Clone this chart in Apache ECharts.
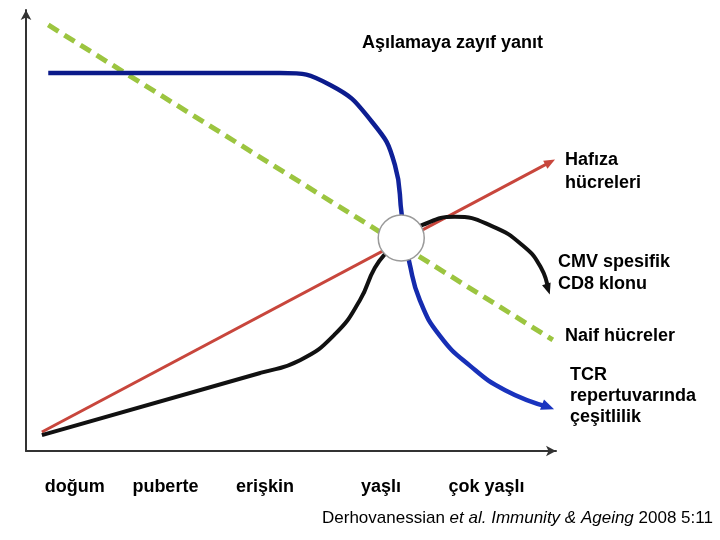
<!DOCTYPE html>
<html>
<head>
<meta charset="utf-8">
<script src="https://cdn.jsdelivr.net/npm/echarts@6/dist/echarts.min.js"></script>
<style>
  html, body { margin: 0; background: #fff; }
  #main { width: 720px; height: 540px; }
</style>
</head>
<body>
<div id="main"></div>
<script>
// life stages on the x axis (0..100 = birth .. very old)
const stageValues = [9.2, 26.3, 45.1, 67.0, 86.9];
const stageLabels = ['doğum', 'puberte', 'erişkin', 'yaşlı', 'çok yaşlı'];

// curves, [x, y] with y 0..100
const naifHucreler = [[4.2, 96.6], [99.4, 25.2]];
const hafizaHucreleri = [[3.0, 4.3], [98.9, 65.5]];
const tcrCesitlilik = [
  [4.2, 85.7], [47.9, 85.7], [57.4, 83.0], [65.3, 74.6], [69.6, 64.9],
  [70.9, 53.5], [71.5, 48.3], [72.3, 42.9], [74.3, 34.2], [78.1, 26.1],
  [83.8, 19.3], [90.4, 13.8], [98.5, 10.0]
];
const cmvKlonu = [
  [3.0, 3.6], [44.2, 17.7], [51.7, 20.6], [58.3, 26.5], [63.0, 34.2],
  [65.8, 41.5], [68.3, 45.4], [70.8, 48.3], [74.7, 51.2], [80.9, 53.1],
  [87.9, 51.0], [94.0, 46.3], [97.2, 41.5], [98.5, 36.7]
];
const kesisim = [[70.8, 48.3]];

const chart = echarts.init(document.getElementById('main'));
const font = '"Liberation Sans", Arial, sans-serif';

chart.setOption({
  animation: false,
  backgroundColor: '#fff',
  grid: { left: 26, right: 164, top: 10, bottom: 89 },
  xAxis: {
    type: 'value', min: 0, max: 100,
    splitLine: { show: false },
    axisTick: { show: false },
    axisLine: {
      lineStyle: { color: '#333', width: 2 },
      symbol: ['none', 'arrow'], symbolSize: [8, 10]
    },
    axisLabel: {
      customValues: stageValues,
      margin: 27,
      fontFamily: font, fontWeight: 'bold', fontSize: 18, color: '#000',
      formatter: function (v) {
        const i = stageValues.indexOf(v);
        return i >= 0 ? stageLabels[i] : '';
      }
    }
  },
  yAxis: {
    type: 'value', min: 0, max: 100,
    splitLine: { show: false },
    axisTick: { show: false },
    axisLabel: { show: false },
    axisLine: {
      show: true,
      lineStyle: { color: '#333', width: 2 },
      symbol: ['none', 'arrow'], symbolSize: [8, 10]
    }
  },
  series: []
});

// put a triangle head on the last point, turned along the last segment
function withArrow(points, size) {
  const n = points.length;
  const a = chart.convertToPixel({ gridIndex: 0 }, points[n - 2]);
  const b = chart.convertToPixel({ gridIndex: 0 }, points[n - 1]);
  const ang = Math.atan2(a[1] - b[1], b[0] - a[0]) * 180 / Math.PI - 90;
  return points.map(function (p, i) {
    if (i < n - 1) return p;
    return { value: p, symbol: 'triangle', symbolSize: size, symbolRotate: ang };
  });
}

const blueGrad = new echarts.graphic.LinearGradient(0, 0, 0, 1, [
  { offset: 0, color: '#0b1a8a' },
  { offset: 1, color: '#1a34c0' }
]);

chart.setOption({
  series: [
    {
      name: 'Naif hücreler', type: 'line', data: naifHucreler,
      symbol: 'none', silent: true, z: 2,
      lineStyle: { color: '#9cc540', width: 5, type: [12, 7], cap: 'butt' }
    },
    {
      name: 'Hafıza hücreleri', type: 'line', data: withArrow(hafizaHucreleri, [9, 11]),
      symbol: 'none', silent: true, z: 3,
      itemStyle: { color: '#c8463c' },
      lineStyle: { color: '#c8463c', width: 3 }
    },
    {
      name: 'CMV spesifik CD8 klonu', type: 'line', data: withArrow(cmvKlonu, [9, 11]),
      symbol: 'none', silent: true, z: 4, smooth: 0.5,
      itemStyle: { color: '#111' },
      lineStyle: { color: '#111', width: 4 }
    },
    {
      name: 'TCR repertuvarında çeşitlilik', type: 'line', data: withArrow(tcrCesitlilik, [11, 13]),
      symbol: 'none', silent: true, z: 5, smooth: 0.5,
      itemStyle: { color: '#1a34c0' },
      lineStyle: { color: blueGrad, width: 4.5 }
    },
    {
      type: 'scatter', data: kesisim, silent: true, z: 10,
      symbolSize: 46,
      itemStyle: { color: '#fff', borderColor: '#9a9a9a', borderWidth: 1.5, opacity: 1 }
    }
  ],
  graphic: [
    { type: 'text', x: 362, y: 34, style: { text: 'Aşılamaya zayıf yanıt', font: 'bold 18px ' + font, fill: '#000' } },
    { type: 'text', x: 565, y: 149, style: { text: 'Hafıza\nhücreleri', font: 'bold 18px ' + font, lineHeight: 23, fill: '#000' } },
    { type: 'text', x: 558, y: 251, style: { text: 'CMV spesifik\nCD8 klonu', font: 'bold 18px ' + font, lineHeight: 22, fill: '#000' } },
    { type: 'text', x: 565, y: 327, style: { text: 'Naif hücreler', font: 'bold 18px ' + font, fill: '#000' } },
    { type: 'text', x: 570, y: 365, style: { text: 'TCR\nrepertuvarında\nçeşitlilik', font: 'bold 18px ' + font, lineHeight: 21, fill: '#000' } },
    {
      type: 'text', x: 322, y: 510,
      style: {
        text: 'Derhovanessian {i|et al. Immunity & Ageing} 2008 5:11',
        font: '17px ' + font, fill: '#000',
        rich: { i: { fontStyle: 'italic', fontSize: 17, fontFamily: font } }
      }
    }
  ]
});
</script>
</body>
</html>
